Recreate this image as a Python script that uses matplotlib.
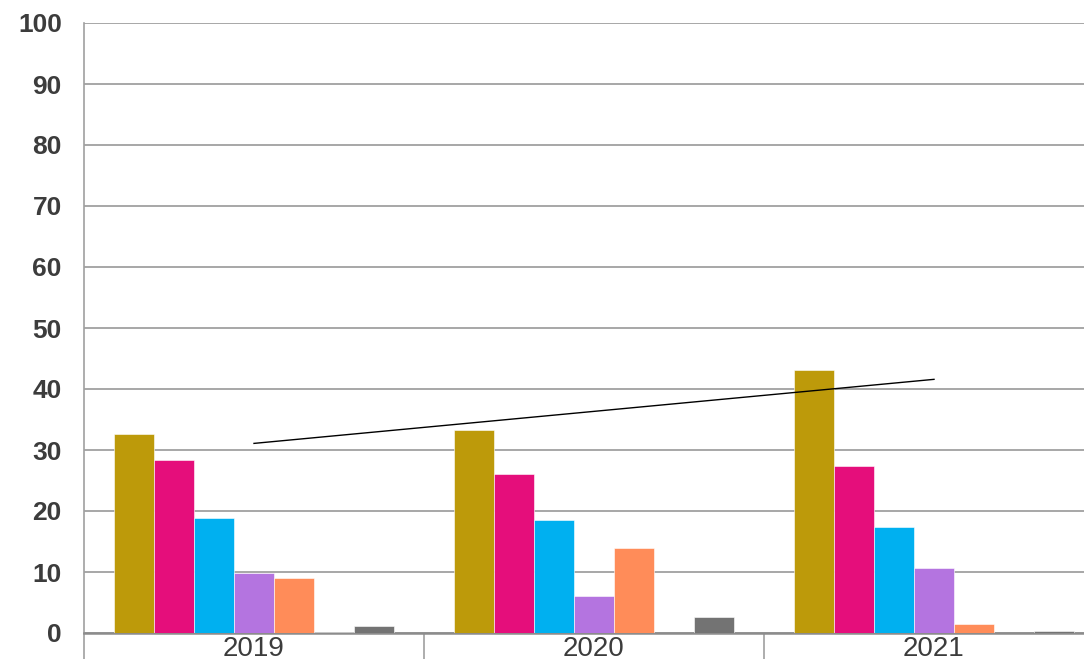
import numpy as np
import matplotlib
matplotlib.use('Agg')
import matplotlib.pyplot as plt

years = ['2019', '2020', '2021']
series_olive = [32.6, 33.3, 43.1]
series_magenta = [28.4, 26.1, 27.4]
series_cyan = [18.8, 18.5, 17.3]
series_purple = [9.8, 6.0, 10.6]
series_orange = [9.0, 13.9, 1.5]
series_small = [0.15, 0.0, 0.0]
series_gray = [1.2, 2.7, 0.3]

all_series = [series_olive, series_magenta, series_cyan, series_purple,
              series_orange, series_small, series_gray]
colors = ['#bd9a0a', '#e50e7b', '#00b0f0', '#b474e0', '#ff8c59', '#6e6e6e', '#737373']

fig = plt.figure(figsize=(10.84, 6.59), dpi=100)
ax = fig.add_axes([84 / 1084, 26 / 659, 1000 / 1084, 610 / 659])

x = np.arange(len(years))
bar_w = 40 / 340
for i, (vals, c) in enumerate(zip(all_series, colors)):
    ax.bar(x + (i - 3) * bar_w, vals, width=bar_w, color=c, edgecolor='white',
           linewidth=0.4, zorder=3)

# linear trend of the first series
k, b = np.polyfit(x, series_olive, 1)
ax.plot(x, k * x + b, color='black', linewidth=1.0, zorder=4)

ax.set_yticks(np.arange(0, 101, 10))
ax.yaxis.grid(True, color='#a0a0a0', linewidth=1.3, zorder=0)
ax.set_axisbelow(True)

for lab in ax.get_yticklabels():
    lab.set_fontweight('bold')
ax.tick_params(axis='y', length=0, pad=16, labelsize=19, labelcolor='#3c3c3c',
               labelfontfamily='Liberation Sans')

ax.set_xticks(x)
ax.set_xticklabels(years)
ax.tick_params(axis='x', which='major', length=0, pad=2, labelsize=20,
               labelcolor='#3c3c3c', labelfontfamily='Liberation Sans')
ax.set_xticks([-0.5, 0.5, 1.5, 2.5], minor=True)
ax.tick_params(axis='x', which='minor', length=20, width=1.2, color='#a0a0a0',
               direction='out')

# limits after the ticks, so the tick setters don't widen the view
ax.set_xlim(-0.5, -0.5 + 1000 / 340)
ax.set_ylim(0, 100)

ax.spines['top'].set_visible(False)
ax.spines['right'].set_visible(False)
ax.spines['left'].set_color('#a0a0a0')
ax.spines['left'].set_linewidth(1.2)
ax.spines['bottom'].set_color('#8c8c8c')
ax.spines['bottom'].set_linewidth(1.8)

fig.savefig('out.png', dpi=100)
